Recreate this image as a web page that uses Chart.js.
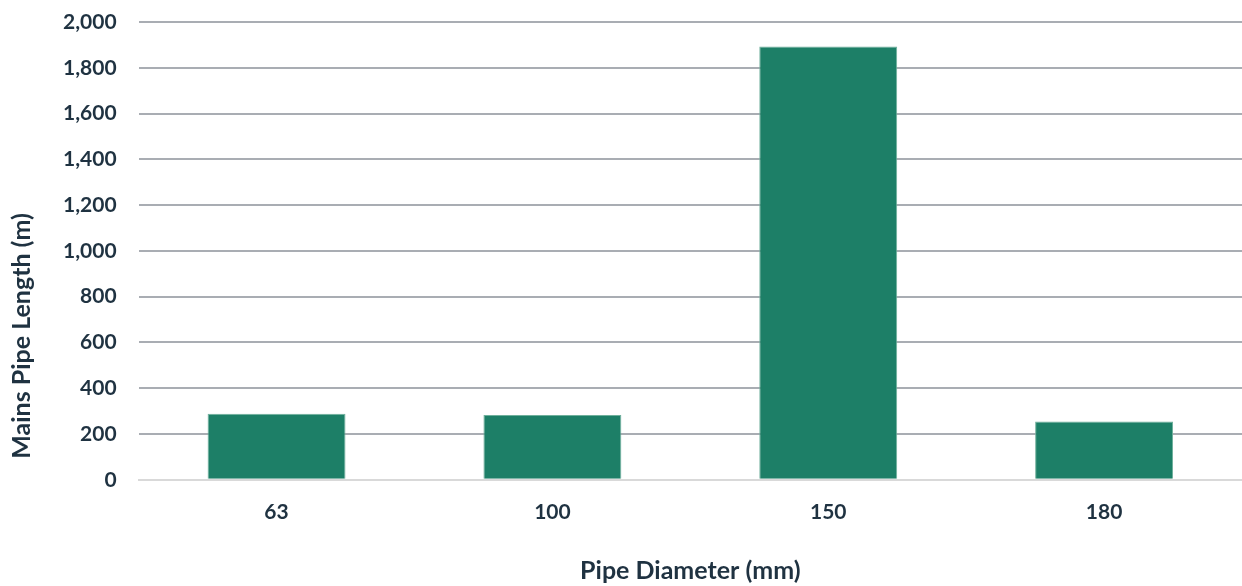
<!DOCTYPE html>
<html>
<head>
<meta charset="utf-8">
<script src="https://cdn.jsdelivr.net/npm/chart.js@4"></script>
<style>
  html, body { margin: 0; padding: 0; background: #ffffff; }
  #wrap { width: 1242px; height: 586px; position: relative; }
</style>
</head>
<body>
<div id="wrap"><canvas id="pipeChart"></canvas></div>
<script>
// Datos del gráfico
const diameters = ['63', '100', '150', '180'];
const pipeLengths = [289, 283, 1893, 255];
const yTicks = [0, 200, 400, 600, 800, 1000, 1200, 1400, 1600, 1800, 2000];
const yTitle = 'Mains Pipe Length (m)';

const textColor = '#1f3241';
const fontFamily = 'Lato, "Open Sans", sans-serif';

Chart.defaults.font.family = fontFamily;
Chart.defaults.color = textColor;

// Título del eje Y dibujado a mano (centrado como en el original)
const yTitlePlugin = {
    id: 'yTitle',
    afterDraw(chart) {
        const ctx = chart.ctx;
        ctx.save();
        ctx.translate(22, 336);
        ctx.rotate(-Math.PI / 2);
        ctx.font = 'bold 25px ' + fontFamily;
        ctx.fillStyle = textColor;
        ctx.textAlign = 'center';
        ctx.textBaseline = 'middle';
        ctx.fillText(yTitle, 0, 0);
        ctx.restore();
    }
};

new Chart(document.getElementById('pipeChart'), {
    type: 'bar',
    data: {
        labels: diameters,
        datasets: [{
            label: yTitle,
            data: pipeLengths,
            backgroundColor: '#1d7f67',
            borderColor: '#6fb09c',
            borderWidth: 1,
            barPercentage: 0.5,
            categoryPercentage: 1.0
        }]
    },
    plugins: [yTitlePlugin],
    options: {
        responsive: true,
        maintainAspectRatio: false,
        animation: false,
        layout: { padding: { top: 22, right: 0, bottom: 0, left: 41 } },
        plugins: {
            legend: { display: false },
            tooltip: { enabled: false }
        },
        scales: {
            x: {
                grid: { display: false, drawTicks: false },
                border: { color: '#d9d9d9', width: 2 },
                ticks: {
                    padding: 20,
                    font: { size: 21, weight: 'bold' }
                },
                title: {
                    display: true,
                    text: 'Pipe Diameter (mm)',
                    font: { size: 25, weight: 'bold' },
                    padding: { top: 11, bottom: 0 }
                }
            },
            y: {
                min: 0,
                max: 2000,
                afterBuildTicks: axis => {
                    axis.ticks = yTicks.map(v => ({ value: v }));
                },
                // Quita el margen extra que Chart.js reserva arriba
                afterFit: axis => {
                    axis.paddingTop = 0;
                },
                grid: {
                    color: ctx => ctx.tick && ctx.tick.value === 0 ? '#d9d9d9' : '#a9adb3',
                    lineWidth: 2,
                    drawTicks: false
                },
                border: { display: false },
                ticks: {
                    padding: 22,
                    font: { size: 21, weight: 'bold' },
                    callback: v => v.toLocaleString('en-US')
                }
            }
        }
    }
});
</script>
</body>
</html>
